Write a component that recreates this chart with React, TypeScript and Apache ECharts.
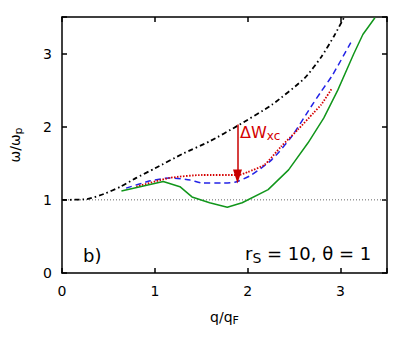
import React, { useEffect, useRef } from "react";
import * as echarts from "echarts";

const rpaQ = [0, 0.27, 0.45, 0.63, 0.8, 1.0, 1.3, 1.59, 1.9, 2.26, 2.61, 2.79, 2.93, 3.04];
const rpaW = [1.0, 1.01, 1.08, 1.18, 1.3, 1.43, 1.63, 1.8, 2.02, 2.3, 2.66, 2.95, 3.24, 3.5];

const blueQ = [0.69, 0.95, 1.16, 1.38, 1.51, 1.72, 1.86, 2.04, 2.26, 2.47, 2.68, 2.79, 2.91, 3.11];
const blueW = [1.16, 1.26, 1.3, 1.27, 1.23, 1.23, 1.24, 1.34, 1.55, 1.86, 2.27, 2.48, 2.7, 3.15];

const redQ = [0.8, 1.16, 1.51, 1.9, 2.0, 2.18, 2.36, 2.54, 2.71, 2.79, 2.91];
const redW = [1.18, 1.3, 1.34, 1.34, 1.38, 1.48, 1.73, 1.96, 2.19, 2.3, 2.53];

const greenQ = [0.64, 1.09, 1.27, 1.4, 1.59, 1.78, 1.94, 2.22, 2.44, 2.65, 2.82, 2.97, 3.14, 3.24, 3.37];
const greenW = [1.12, 1.25, 1.18, 1.04, 0.96, 0.9, 0.96, 1.14, 1.41, 1.78, 2.12, 2.5, 2.99, 3.26, 3.49];

const refQ = [0, 3.5];
const refW = [1, 1];

const arrowQ = 1.89;
const arrowFrom = 2.03;
const arrowTo = 1.32;

const xTicks = [0, 1, 2, 3];
const yTicks = [0, 1, 2, 3];

const zip = (a: number[], b: number[]) => a.map((v, i) => [v, b[i]]);

const FONT = "DejaVu Sans";

export default function App() {
  const ref = useRef<HTMLDivElement>(null);
  useEffect(() => {
    if (!ref.current) return;
    const chart = echarts.init(ref.current, null, { renderer: "svg" });
    const axisCommon = {
      type: "value" as const,
      min: 0,
      max: 3.5,
      interval: 1,
      splitLine: { show: false },
      axisLine: { show: true, onZero: false, lineStyle: { color: "#000", width: 1.5 } },
      axisTick: { show: true, inside: true, length: 5, lineStyle: { color: "#000", width: 1.5 } },
    };
    chart.setOption({
      animation: false,
      backgroundColor: "#fff",
      grid: { left: 58, right: 28, top: 17, bottom: 71, show: false },
      xAxis: [
        {
          ...axisCommon,
          position: "bottom",
          axisLabel: {
            color: "#000",
            fontFamily: FONT,
            fontSize: 14,
            margin: 11,
            formatter: (v: number) => (xTicks.includes(v) ? String(v) : ""),
          },
          name: "{a|q/q}{b|F}",
          nameLocation: "middle",
          nameGap: 35,
          nameTextStyle: {
            rich: {
              a: { fontFamily: FONT, fontSize: 14, color: "#000" },
              b: { fontFamily: FONT, fontSize: 11, color: "#000", padding: [7, 0, 0, 0] },
            },
          },
        },
        { ...axisCommon, position: "top", axisLabel: { show: false } },
      ],
      yAxis: [
        {
          ...axisCommon,
          position: "left",
          axisLabel: {
            color: "#000",
            fontFamily: FONT,
            fontSize: 14,
            margin: 10,
            formatter: (v: number) => (yTicks.includes(v) ? String(v) : ""),
          },
          name: "{a|ω/ω}{b|p}",
          nameLocation: "middle",
          nameGap: 38,
          nameRotate: 90,
          nameTextStyle: {
            rich: {
              a: { fontFamily: FONT, fontSize: 14, color: "#000" },
              b: { fontFamily: FONT, fontSize: 11, color: "#000", padding: [7, 0, 0, 0] },
            },
          },
        },
        { ...axisCommon, position: "right", axisLabel: { show: false } },
      ],
      series: [
        {
          type: "line",
          data: zip(refQ, refW),
          symbol: "none",
          lineStyle: { color: "#666", width: 1, type: [1, 2] },
        },
        {
          type: "line",
          data: zip(rpaQ, rpaW),
          symbol: "none",
          smooth: 0.2,
          lineStyle: { color: "#000", width: 1.8, type: [5, 3, 1.5, 3] },
        },
        {
          type: "line",
          data: zip(blueQ, blueW),
          symbol: "none",
          smooth: 0.2,
          lineStyle: { color: "#2323e6", width: 1.5, type: [6, 4] },
        },
        {
          type: "line",
          data: zip(redQ, redW),
          symbol: "none",
          smooth: 0.2,
          lineStyle: { color: "#d40000", width: 1.8, type: [1.5, 1.5] },
        },
        {
          type: "line",
          data: zip(greenQ, greenW),
          symbol: "none",
          lineStyle: { color: "#11961b", width: 1.5 },
          markLine: {
            silent: true,
            symbol: ["none", "triangle"],
            symbolSize: [9, 14],
            label: { show: false },
            lineStyle: { color: "#c80000", width: 1.5, type: "solid" },
            data: [[{ coord: [arrowQ, arrowFrom] }, { coord: [arrowQ, arrowTo] }]],
          },
        },
      ],
      graphic: [
        {
          type: "text",
          left: 240,
          top: 124,
          style: {
            text: "{a|ΔW}{b|xc}",
            rich: {
              a: { fontFamily: FONT, fontSize: 16, fill: "#d40000" },
              b: { fontFamily: FONT, fontSize: 12, fill: "#d40000", padding: [8, 0, 0, 0] },
            },
          },
        },
        {
          type: "text",
          left: 83,
          top: 246,
          style: { text: "b)", fontFamily: FONT, fontSize: 18, fill: "#000" },
        },
        {
          type: "text",
          left: 245,
          top: 244,
          style: {
            text: "{a|r}{b|S}{a| = 10, θ = 1}",
            rich: {
              a: { fontFamily: FONT, fontSize: 18, fill: "#000" },
              b: { fontFamily: FONT, fontSize: 14, fill: "#000", padding: [9, 0, 0, 0] },
            },
          },
        },
      ],
    });
    return () => chart.dispose();
  }, []);
  return (
    <div
      ref={ref}
      style={{ position: "absolute", left: 0, top: 0, width: 415, height: 344 }}
    />
  );
}
